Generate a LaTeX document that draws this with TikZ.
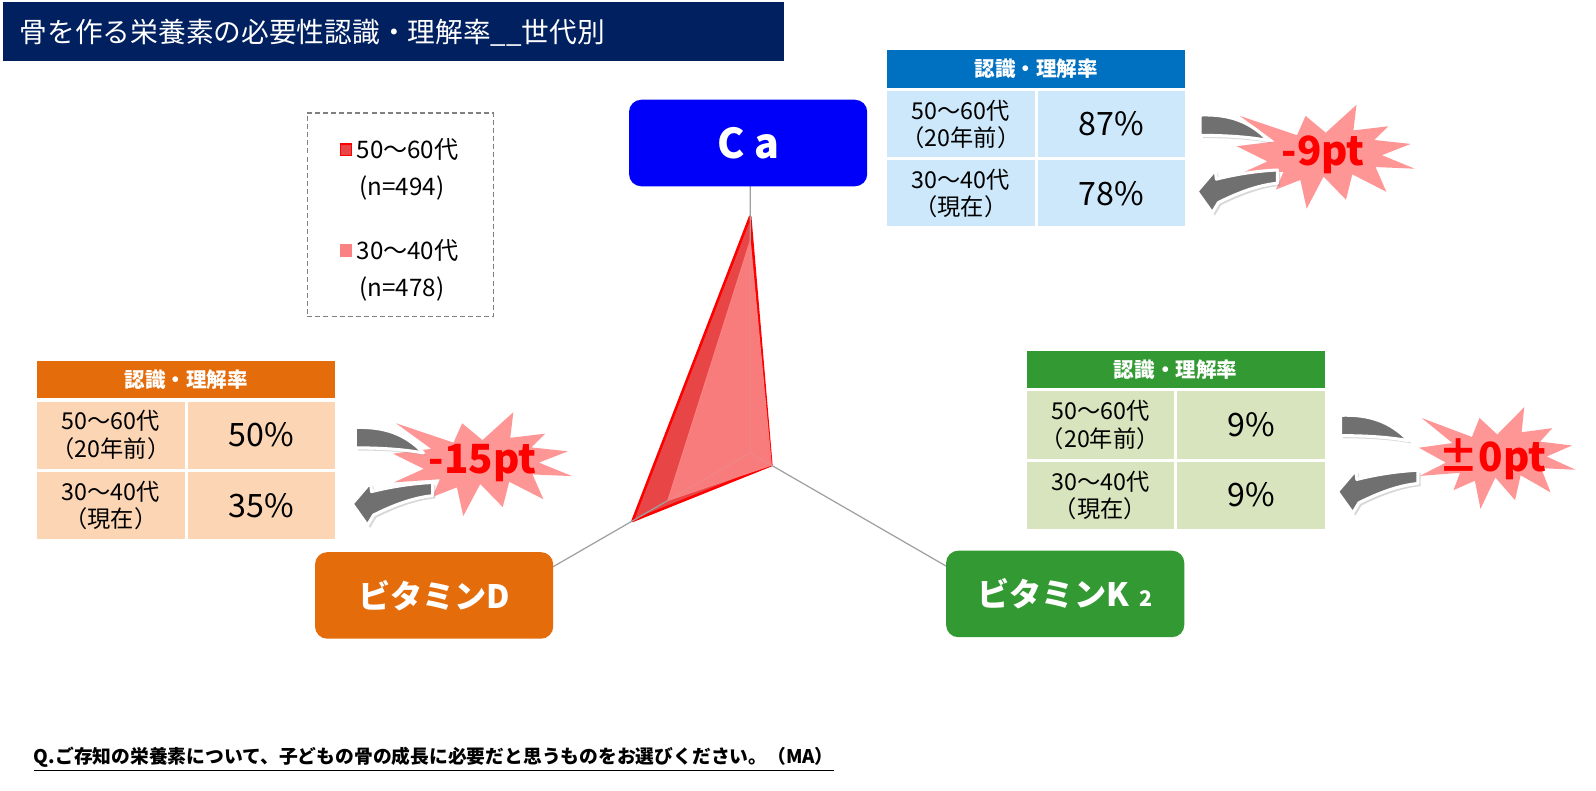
\documentclass[tikz,border=0pt]{standalone}
\usepackage{fontspec}
\setmainfont{Noto Sans CJK JP}
\usetikzlibrary{shadows}
\newlength\px
\setlength\px{0.02cm}
\definecolor{navy}{RGB}{0,32,96}
\definecolor{cablue}{RGB}{0,0,250}
\definecolor{cahdr}{RGB}{0,112,192}
\definecolor{cacell}{RGB}{204,232,250}
\definecolor{dor}{RGB}{228,108,10}
\definecolor{dcell}{RGB}{252,213,181}
\definecolor{kgr}{RGB}{51,153,51}
\definecolor{kcell}{RGB}{215,228,189}
\definecolor{burstpink}{RGB}{255,150,150}
\definecolor{sone}{RGB}{232,70,70}
\definecolor{stwo}{RGB}{250,130,130}
\definecolor{axisgray}{RGB}{160,160,160}
\definecolor{arrgray}{RGB}{112,112,112}
\definecolor{leggray}{RGB}{128,128,128}
\tikzset{
  x=\px, y=-\px,
  cell/.style={draw=white, line width=3\px, minimum width=148\px, minimum height=69\px, inner sep=0pt, align=center},
  hdr/.style={draw=white, line width=3\px, minimum width=296\px, minimum height=40\px, inner sep=0pt, text=white, font=\fontsize{11.5}{13}\selectfont\bfseries},
  agecell/.style={cell, font=\fontsize{13}{15.3}\selectfont},
  pctcell/.style={cell, font=\fontsize{18}{20}\selectfont},
  catbox/.style={rounded corners=12\px, minimum width=234\px, minimum height=85\px, text=white, font=\fontsize{18}{20}\selectfont\bfseries, inner sep=0pt},
  burstfill/.style={fill=burstpink},
  bursttext/.style={text=red, font=\fontsize{22.5}{24}\selectfont\bfseries, inner sep=0pt},
  garrow/.style={fill=arrgray, draw=white, line width=3\px, line join=round, drop shadow={shadow xshift=1.5pt, shadow yshift=-1.5pt, opacity=0.3}},
  legtext/.style={anchor=west, font=\fontsize{13.5}{15}\selectfont, inner sep=0pt},
  legmark/.style={minimum size=11\px, inner sep=0pt, line width=1.2\px},
}
\newcommand{\explosion}[4]{%
  \fill[burstfill, shift={(#1,#2)}, xscale=#3, yscale=#4]
  (0.5,0.2685) -- (0.6723,0) -- (0.6553,0.2465) -- (0.8509,0.2063) -- (0.7732,0.3387)
  -- (0.9767,0.3767) -- (0.8151,0.4850) -- (1,0.6153) -- (0.7795,0.5992) -- (0.8400,0.8377)
  -- (0.6491,0.6693) -- (0.6133,0.9137) -- (0.4876,0.6914) -- (0.3928,1) -- (0.3572,0.7235)
  -- (0.2205,0.8156) -- (0.2624,0.6452) -- (0.0063,0.6753) -- (0.1723,0.5451) -- (0,0.3988)
  -- (0.2142,0.3526) -- (0.0171,0.1063) -- (0.3385,0.2926) -- (0.3867,0.1063) -- cycle;}
\newcommand{\uturn}[2]{%
  \begin{scope}[shift={(#1,#2)}]
    \filldraw[garrow] (0,-1) .. controls (28,-2) and (49,5) .. (67,24)
      .. controls (45,20) and (22,19) .. (0,19) -- cycle;
    \filldraw[garrow] (-3,74) -- (15,53) -- (16,62) .. controls (36,57) and (56,54) .. (76,53)
      -- (76,66) .. controls (56,68) and (36,76) .. (18,85) -- (12,95) -- cycle;
  \end{scope}}
\begin{document}
\begin{tikzpicture}
\useasboundingbox (0,0) rectangle (1568,777);
\fill[white] (0,0) rectangle (1568,777);

% title
\node[fill=navy, minimum width=767\px, minimum height=58\px, inner sep=0pt] (tbar) at (386.5,31) {};
\node[anchor=west, text=white, font=\fontsize{15.5}{17}\selectfont, inner sep=0pt] (ttl) at (19,32) {骨を作る栄養素の必要性認識・理解率\_\_世代別};

% legend
\node[draw=leggray, line width=1.2\px, dash pattern=on 2.8pt off 1.7pt, minimum width=183\px, minimum height=200\px, inner sep=0pt] (leg) at (393.5,211) {};
\node[legmark, fill=sone, draw=red] (m1) at (340,147) {};
\node[legtext] (l1) at (350,147) {50～60代};
\node[legtext] (l1n) at (353,185) {(n=494)};
\node[legmark, fill=stwo, draw=stwo] (m2) at (340,246) {};
\node[legtext] (l2) at (350,246) {30～40代};
\node[legtext] (l2n) at (353,284) {(n=478)};

% radar chart
\coordinate (O) at (737,445);
\coordinate (axCa) at (737,178);
\coordinate (axD) at (505.8,578.5);
\coordinate (axK) at (968.2,578.5);
\coordinate (s1a) at (737,212.7);
\coordinate (s1b) at (621.4,511.8);
\coordinate (s1c) at (757.8,457);
\coordinate (s2a) at (737,236.7);
\coordinate (s2b) at (656.1,491.7);
\coordinate (s2c) at (757.8,457);
\filldraw[fill=sone, draw=red, line width=2.5\px, line join=round] (s1a) -- (s1b) -- (s1c) -- cycle;
\draw[axisgray, line width=1.2\px] (O) -- (axCa) (O) -- (axD) (O) -- (axK);
\filldraw[fill=stwo, draw=stwo, fill opacity=0.9, line width=1\px, line join=round] (s2a) -- (s2b) -- (s2c) -- cycle;

% category boxes
\node[catbox, fill=cablue, font=\fontsize{23}{24}\selectfont\bfseries] (ca) at (735,140.5) {C a};
\node[catbox, fill=dor] (vd) at (426.5,585) {ビタミンD};
\node[catbox, fill=kgr] (vk) at (1046.5,583.5) {ビタミンK\,\,{\fontsize{12}{12}\selectfont 2}};

% Ca table
\node[hdr, fill=cahdr] (caH) at (1018,68) {認識・理解率};
\node[agecell, fill=cacell, minimum height=68\px] (caA1) at (944,122) {50～60代\\（20年前）};
\node[pctcell, fill=cacell, minimum height=68\px] (caP1) at (1092,122) {87\%};
\node[agecell, fill=cacell, minimum height=68\px] (caA2) at (944,190) {30～40代\\（現在）};
\node[pctcell, fill=cacell, minimum height=68\px] (caP2) at (1092,190) {78\%};

% D table
\node[hdr, fill=dor] (dH) at (183,373) {認識・理解率};
\node[agecell, fill=dcell] (dA1) at (109,427.5) {50～60代\\（20年前）};
\node[pctcell, fill=dcell] (dP1) at (257,427.5) {50\%};
\node[agecell, fill=dcell] (dA2) at (109,496.5) {30～40代\\（現在）};
\node[pctcell, fill=dcell] (dP2) at (257,496.5) {35\%};

% K2 table
\node[hdr, fill=kgr] (kH) at (1155,363) {認識・理解率};
\node[agecell, fill=kcell] (kA1) at (1081,417.5) {50～60代\\（20年前）};
\node[pctcell, fill=kcell] (kP1) at (1229,417.5) {9\%};
\node[agecell, fill=kcell] (kA2) at (1081,486.5) {30～40代\\（現在）};
\node[pctcell, fill=kcell] (kP2) at (1229,486.5) {9\%};

% bursts
\explosion{1215}{103}{175}{102}
\explosion{386}{405}{176}{102}
\explosion{1394}{400}{154}{100}

% arrows
\uturn{1179}{114}
\uturn{349}{421}
\uturn{1317}{409}

% burst texts
\node[bursttext] (b1) at (1300,152) {-9pt};
\node[bursttext] (b2) at (474,455) {-15pt};
\node[bursttext] (b3) at (1466,451) {±0pt};

% question
\node[anchor=west, font=\fontsize{10.5}{12}\selectfont\bfseries, inner sep=0pt] (q) at (33,746) {\underline{Q.ご存知の栄養素について、子どもの骨の成長に必要だと思うものをお選びください。（MA）}};
\end{tikzpicture}
\end{document}
